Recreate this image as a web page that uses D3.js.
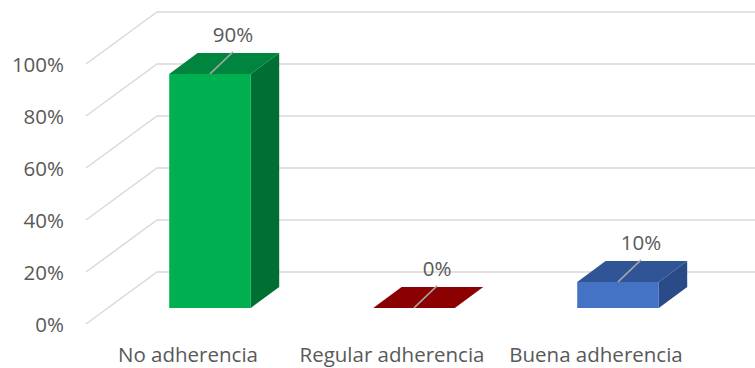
<!DOCTYPE html>
<html>
<head>
<meta charset="utf-8">
<script src="https://cdn.jsdelivr.net/npm/d3@7"></script>
<style>
  html, body { margin: 0; padding: 0; background: #fff; }
  svg { display: block; }
  text { font-family: "Open Sans", Lato, sans-serif; fill: #595959; }
</style>
</head>
<body>
<svg id="chart" width="755" height="368"></svg>
<script>
// Data
const categories = ["No adherencia", "Regular adherencia", "Buena adherencia"];
const values = [90, 0, 10];
const tickValues = [0, 20, 40, 60, 80, 100];
const tickLabels = ["0%", "20%", "40%", "60%", "80%", "100%"];
const frontColors = ["#00B050", "#8B0000", "#4472C4"];
const topColors   = ["#00853E", "#8B0000", "#2F5597"];
const sideColors  = ["#006F33", "#6E0000", "#2A4A88"];

const svg = d3.select("#chart");
const fontSize = 20.5;

// Oblique 3D projection: depth z in [0,1] shifts right and up
const depthDX = 71, depthDY = -52;
const y = d3.scaleLinear().domain([0, 100]).range([324, 64]);   // front plane
const x = d3.scaleBand().domain(categories).range([86, 698])
  .paddingInner(0.6).paddingOuter(0.3);

const proj = (px, v, z) => [px + z * depthDX, y(v) + z * depthDY];

// Gridlines: side wall diagonals + back wall horizontals
const grid = svg.append("g").attr("stroke", "#D9D9D9").attr("stroke-width", 1.5).attr("fill", "none");
tickValues.forEach(v => {
  const a = proj(86, v, 0), b = proj(86, v, 1);
  grid.append("path").attr("d", `M${a[0]},${a[1]}L${b[0]},${b[1]}L755,${b[1]}`);
});

// Value axis labels
svg.append("g").selectAll("text").data(tickValues).join("text")
  .attr("x", 64).attr("y", d => y(d))
  .attr("text-anchor", "end").attr("dominant-baseline", "central")
  .attr("font-size", fontSize)
  .text((d, i) => tickLabels[i]);

// Category labels
svg.append("g").selectAll("text").data(categories).join("text")
  .attr("x", d => x(d) + x.bandwidth() / 2)
  .attr("y", 362)
  .attr("text-anchor", "middle")
  .attr("font-size", fontSize)
  .text(d => d);

// Bars occupy a slice of the depth
const z0 = 0.31, z1 = 0.71;
const bars = svg.append("g");
categories.forEach((c, i) => {
  const v = values[i];
  const xl = x(c), xr = x(c) + x.bandwidth();
  const pts = (arr) => arr.map(p => p.join(",")).join(" ");
  const fbl = proj(xl, 0, z0), fbr = proj(xr, 0, z0), ftl = proj(xl, v, z0), ftr = proj(xr, v, z0);
  const bbr = proj(xr, 0, z1), btl = proj(xl, v, z1), btr = proj(xr, v, z1);
  // side face
  bars.append("polygon").attr("points", pts([fbr, ftr, btr, bbr])).attr("fill", sideColors[i]);
  // front face
  bars.append("polygon").attr("points", pts([fbl, fbr, ftr, ftl])).attr("fill", frontColors[i]);
  // top face
  bars.append("polygon").attr("points", pts([ftl, ftr, btr, btl])).attr("fill", topColors[i]);
});

// Data labels with leader lines
const labels = svg.append("g");
categories.forEach((c, i) => {
  const v = values[i];
  const start = proj(x(c) + x.bandwidth() / 2, v, z0);
  const end = [start[0] + 23, start[1] - 22];
  labels.append("line")
    .attr("x1", start[0]).attr("y1", start[1]).attr("x2", end[0]).attr("y2", end[1])
    .attr("stroke", "#A6A6A6").attr("stroke-width", 1.5);
  labels.append("text")
    .attr("x", end[0]).attr("y", end[1] - 10)
    .attr("text-anchor", "middle").attr("font-size", fontSize)
    .text(v + "%");
});
</script>
</body>
</html>
